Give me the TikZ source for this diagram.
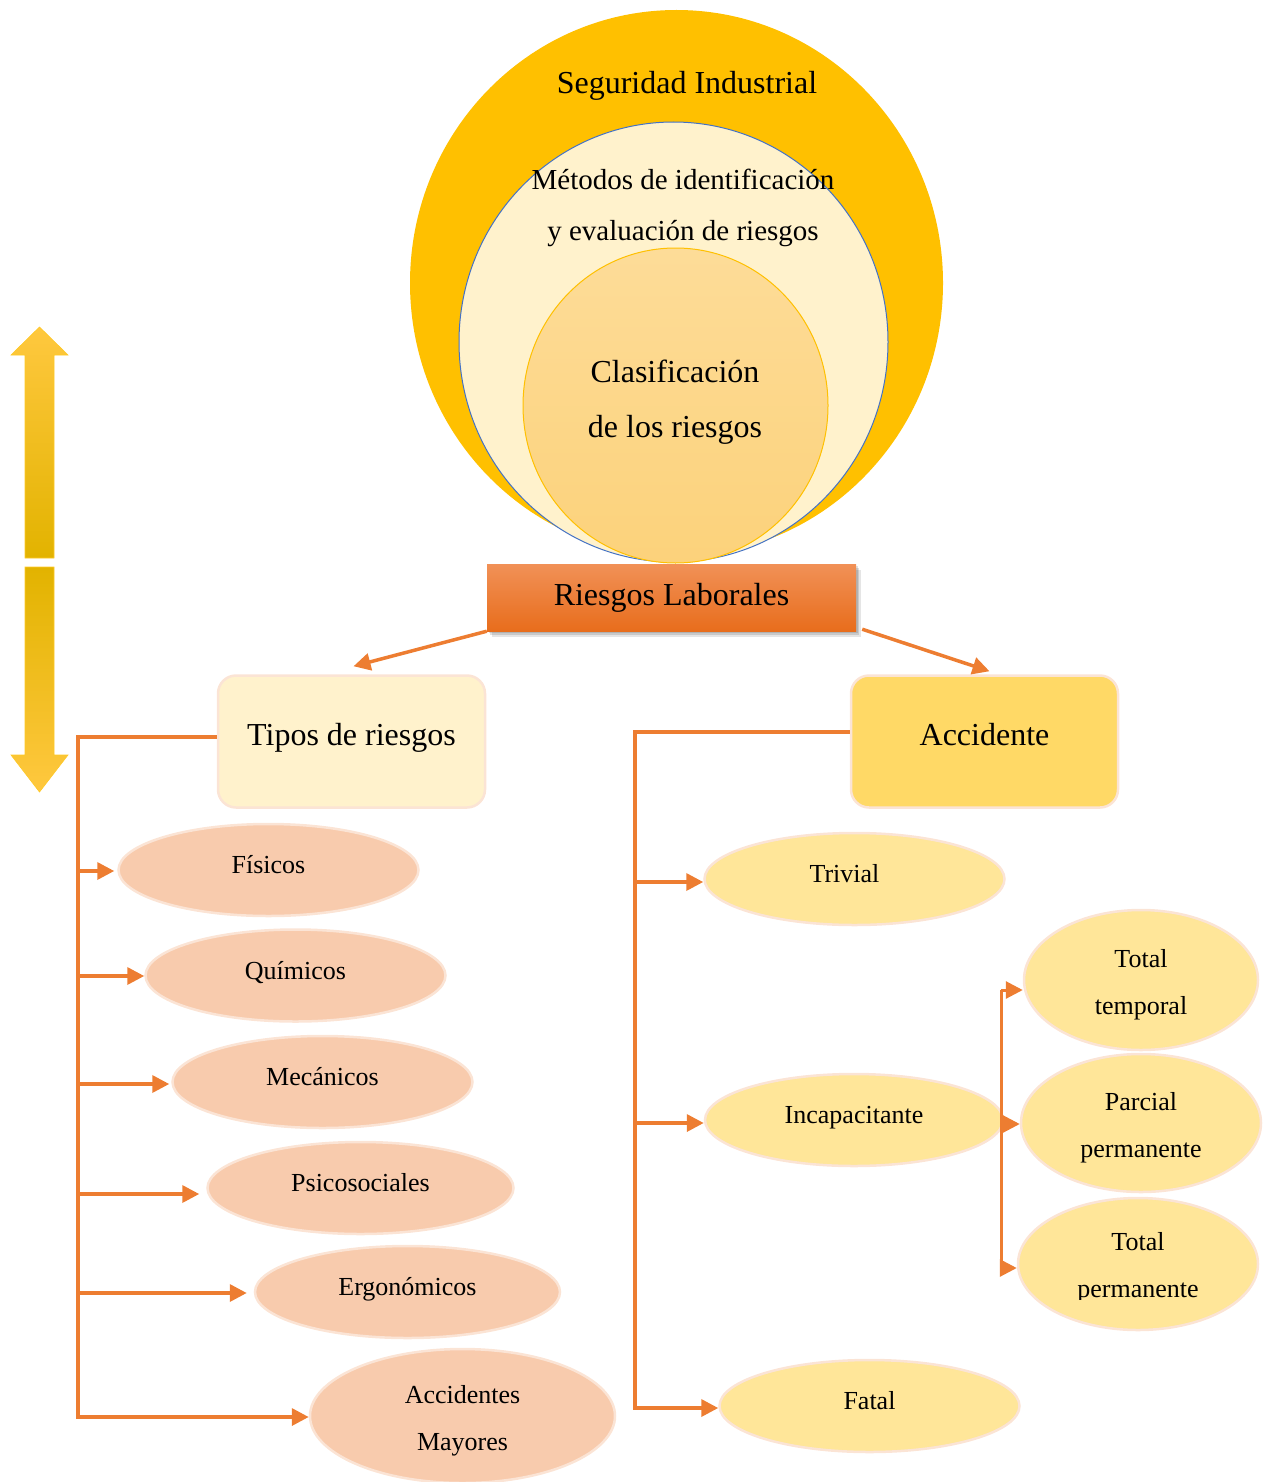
\documentclass[tikz,border=0pt]{standalone}
\usepackage{fontspec}
\setmainfont{Liberation Serif}
\usetikzlibrary{arrows.meta,shapes.geometric,shadows,calc}

\definecolor{gold}{HTML}{FFC000}
\definecolor{cream}{HTML}{FFF2CC}
\definecolor{ringblue}{HTML}{4472C4}
\definecolor{coreTop}{HTML}{FDDC98}
\definecolor{coreBot}{HTML}{FCD27B}
\definecolor{lineor}{HTML}{ED7D31}
\definecolor{peach}{HTML}{F8CBAD}
\definecolor{softedge}{HTML}{FBE4D5}
\definecolor{paleyel}{HTML}{FFE699}
\definecolor{accyel}{HTML}{FFD966}
\definecolor{boxTop}{HTML}{F19157}
\definecolor{boxBot}{HTML}{E86D1C}
\definecolor{arrLight}{HTML}{FFC83F}
\definecolor{arrDark}{HTML}{E2B300}

% a strut that lowers two-line labels inside their ovals
\newcommand{\lowerlead}{\rule{0pt}{28pt}}

\begin{document}
\begin{tikzpicture}[x=1pt,y=-1pt,
  big/.style={font=\fontsize{32}{55}\selectfont},
  small/.style={font=\fontsize{26}{47}\selectfont},
  conn/.style={draw=lineor,line width=3.5pt},
  arr/.style={conn,-{Triangle[length=17pt,width=17pt]}},
  catbox/.style={rectangle,rounded corners=18pt,draw=softedge,line width=2.5pt,
    minimum width=267pt,minimum height=132pt,big,text height=22pt,text depth=14pt},
  oval/.style={ellipse,draw=softedge,line width=2.5pt,inner sep=0pt,
    minimum width=300pt,minimum height=92pt,small},
  oneline/.style={text height=18pt,text depth=11pt},
  twoline/.style={align=center},
  risk/.style={oval,fill=peach},
  acc/.style={oval,fill=paleyel},
  dmg/.style={oval,fill=paleyel,minimum width=238pt,minimum height=138pt},
  softshadow/.style={
    drop shadow={shadow xshift=1.5pt,shadow yshift=-2pt,fill=black,opacity=0.12},
    drop shadow={shadow xshift=3pt,shadow yshift=-4pt,fill=black,opacity=0.12},
    drop shadow={shadow xshift=4.5pt,shadow yshift=-6pt,fill=black,opacity=0.10}}
]
\useasboundingbox (0,0) rectangle (1272,1482);

% nested circles
\node[ellipse,fill=gold,inner sep=0pt,minimum width=533pt,minimum height=546pt] (si) at (676.5,283) {};
\node[ellipse,fill=cream,draw=ringblue,line width=1pt,inner sep=0pt,
      minimum width=429pt,minimum height=440pt] (mi) at (673.5,342) {};
\node[ellipse,top color=coreTop,bottom color=coreBot,draw=gold,line width=1pt,inner sep=0pt,
      minimum width=305pt,minimum height=315pt] (cr) at (675.5,405.5) {};

\node[big] (tsi) at (687,86) {Seguridad Industrial};
\node[align=center,font=\fontsize{29}{51}\selectfont] (tmi) at (683,208)
  {Métodos de identificación\\y evaluación de riesgos};
\node[big,align=center] (tcr) at (675,402) {Clasificación\\de los riesgos};

% main box
\node[rectangle,top color=boxTop,bottom color=boxBot,minimum width=369pt,minimum height=67pt,
      big,softshadow] (rl) at (671.5,597.5) {Riesgos Laborales};

% categories
\node[catbox,fill=cream] (tipos) at (351.5,741.5) {Tipos de riesgos};
\node[catbox,fill=accyel] (accb) at (984.5,741.5) {Accidente};

\draw[arr] (rl.south west) -- ([xshift=2pt,yshift=8pt]tipos.north);
\draw[arr] ([xshift=6pt,yshift=2pt]rl.south east) -- ([xshift=5pt,yshift=3pt]accb.north);

% risk types
\node[risk,oneline] (fis) at (268.5,870) {Físicos};
\node[risk,oneline] (qui) at (295.5,975.5) {Químicos};
\node[risk,oneline] (mec) at (322.5,1082) {Mecánicos};
\node[risk,oneline,minimum width=306pt] (psi) at (360.5,1188) {Psicosociales};
\node[risk,oneline,minimum width=305pt] (erg) at (407.5,1292) {Ergonómicos};
\node[risk,twoline,minimum width=305pt,minimum height=134pt] (may) at (462.5,1416)
  {\lowerlead Accidentes\\Mayores};

\coordinate (lt) at (78,737);
\coordinate (l1) at (78,871);
\coordinate (l2) at (78,976);
\coordinate (l3) at (78,1084);
\coordinate (l4) at (78,1194);
\coordinate (l5) at (78,1293);
\coordinate (l6) at (78,1417);

\draw[arr,line join=miter] (lt -| tipos.west) -- (lt) -- (l6) -- (l6 -| may.west);
\draw[arr,shorten >=3pt] (l1) -- (l1 -| fis.west);
\draw[arr] (l2) -- (l2 -| qui.west);
\draw[arr,shorten >=2pt] (l3) -- (l3 -| mec.west);
\draw[arr,shorten >=7pt] (l4) -- (l4 -| psi.west);
\draw[arr,shorten >=7pt] (l5) -- (l5 -| erg.west);

% accident types
\node[acc,oneline] (tri) at (854.5,879) {\hspace*{-20pt}Trivial};
\node[acc,oneline,minimum width=298pt] (inc) at (854,1120) {Incapacitante};
\node[acc,oneline] (fat) at (869.5,1406) {Fatal};

\coordinate (rt) at (635,732);
\coordinate (r1) at (635,882);
\coordinate (r2) at (635,1123);
\coordinate (r3) at (635,1408);

\draw[arr,line join=miter] (rt -| accb.west) -- (rt) -- (r3) -- (r3 -| fat.west);
\draw[arr] (r1) -- (r1 -| tri.west);
\draw[arr] (r2) -- (r2 -| inc.west);

% incapacity levels
\node[dmg,twoline,minimum width=234pt,minimum height=140pt] (tt) at (1141,980)
  {\lowerlead Total\\temporal};
\node[dmg,twoline,minimum width=240pt,minimum height=138pt] (pp) at (1141,1123)
  {\lowerlead Parcial\\permanente};
\node[dmg,minimum width=240pt,minimum height=132pt] (tp) at (1138,1264) {};
\begin{scope}
  \clip (1030,1220) rectangle (1250,1299);
  \node[small,align=center] (tpt) at (1138,1268) {Total\\permanente};
\end{scope}

\coordinate (s1) at (1001,990);
\coordinate (s2) at (1001,1124);
\coordinate (s3) at (1001,1268);
\draw[conn,line width=3pt] (s1) -- (s3);
\draw[arr,line width=3pt] (s1) -- (s1 -| tt.west);
\draw[arr,line width=3pt] (s2) -- (s2 -| pp.west);
\draw[arr,line width=3pt] (s3) -- (s3 -| tp.west);

% double-headed scale arrow
\shade[top color=arrLight,middle color=gold,bottom color=arrDark,draw=gold!85!white,line width=0.6pt]
  (39.5,327) -- (68,355) -- (54,355) -- (54,558) -- (25,558) -- (25,355) -- (11,355) -- cycle;
\shade[top color=arrDark,middle color=gold,bottom color=arrLight,draw=gold!85!white,line width=0.6pt]
  (25,567) -- (54,567) -- (54,755) -- (68,755) -- (39.5,792) -- (11,755) -- (25,755) -- cycle;
\end{tikzpicture}
\end{document}
